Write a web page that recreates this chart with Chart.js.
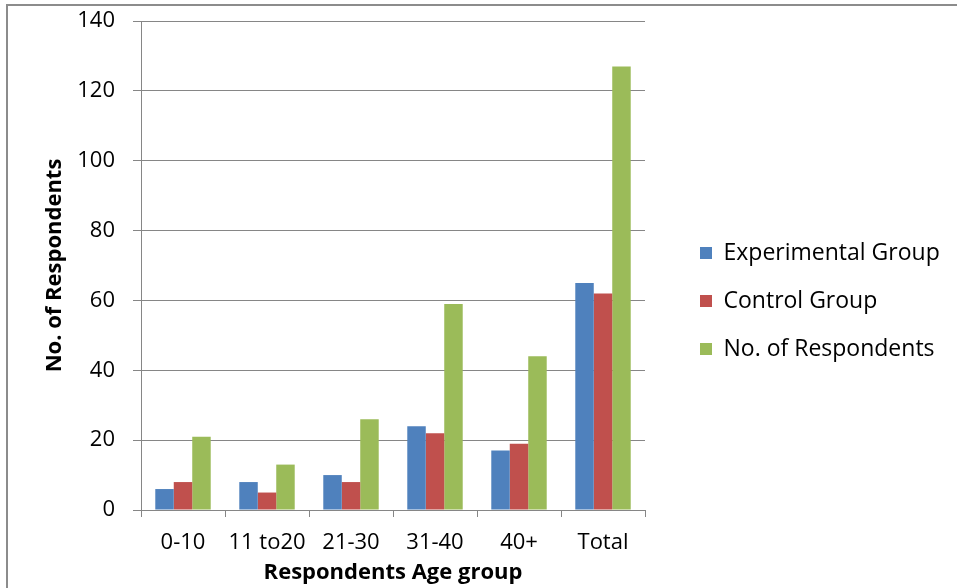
<!DOCTYPE html>
<html>
<head>
<meta charset="utf-8">
<script src="https://cdn.jsdelivr.net/npm/chart.js"></script>
<style>
    html, body { margin: 0; padding: 0; background: #fff; overflow: hidden; }
    #wrap { position: relative; width: 957px; height: 588px; overflow: hidden; }
    #frame {
        position: absolute; left: 6px; top: 4px; width: 2000px; height: 2000px;
        border: 2px solid #8c8c8c; pointer-events: none;
    }
    canvas { position: absolute; left: 0; top: 0; }
</style>
</head>
<body>
<div id="wrap">
    <div id="frame"></div>
    <canvas id="ageChart" width="957" height="588"></canvas>
</div>
<script>
const categories = ['0-10', '11 to20', '21-30', '31-40', '40+', 'Total'];
const experimental = [6, 8, 10, 24, 17, 65];
const control = [8, 5, 8, 22, 19, 62];
const respondents = [21, 13, 26, 59, 44, 127];

const axisGray = '#868686';
const fontFamily = '"Open Sans", Lato, sans-serif';

// legend sits a bit right of (and lower than) where Chart.js puts it
const legendGap = {
    id: 'legendGap',
    afterLayout(chart) {
        const lg = chart.legend;
        lg.left += 30;
        lg.right = chart.width;
        lg.top += 16;
    }
};

document.addEventListener('DOMContentLoaded', function() {
    const ctx = document.getElementById('ageChart').getContext('2d');
    window.ageChart = new Chart(ctx, {
        type: 'bar',
        data: {
            labels: categories,
            datasets: [{
                label: 'Experimental Group',
                data: experimental,
                backgroundColor: '#4F81BD',
                borderWidth: 0
            }, {
                label: 'Control Group',
                data: control,
                backgroundColor: '#C0504D',
                borderWidth: 0
            }, {
                label: 'No. of Respondents',
                data: respondents,
                backgroundColor: '#9BBB59',
                borderWidth: 0
            }]
        },
        options: {
            responsive: false,
            animation: false,
            barPercentage: 1,
            categoryPercentage: 0.66,
            layout: {
                padding: { left: 42, right: 111, top: 0, bottom: 2 }
            },
            plugins: {
                legend: {
                    position: 'right',
                    labels: {
                        boxWidth: 12,
                        boxHeight: 12,
                        padding: 25,
                        color: '#000',
                        font: { family: fontFamily, size: 23 }
                    }
                },
                tooltip: { enabled: false }
            },
            scales: {
                x: {
                    afterFit(scale) {
                        scale.height = 76;
                    },
                    grid: {
                        drawOnChartArea: false,
                        drawTicks: true,
                        tickLength: 7,
                        color: axisGray,
                        offset: true
                    },
                    border: { color: axisGray },
                    ticks: {
                        color: '#000',
                        padding: 13,
                        maxRotation: 0,
                        font: { family: fontFamily, size: 22 }
                    },
                    title: {
                        display: true,
                        text: 'Respondents Age group',
                        color: '#000',
                        padding: { top: 0, bottom: 0 },
                        font: { family: fontFamily, size: 22, weight: 'bold' }
                    }
                },
                y: {
                    min: 0,
                    max: 140,
                    afterFit(scale) {
                        scale.width = 99;
                        scale.paddingTop = 21;
                    },
                    grid: {
                        color: axisGray,
                        tickLength: 8
                    },
                    border: { color: axisGray },
                    ticks: {
                        stepSize: 20,
                        color: '#000',
                        padding: 18,
                        font: { family: fontFamily, size: 22 }
                    },
                    title: {
                        display: true,
                        text: 'No. of Respondents',
                        color: '#000',
                        padding: { top: 0, bottom: 0 },
                        font: { family: fontFamily, size: 22, weight: 'bold' }
                    }
                }
            }
        },
        plugins: [legendGap]
    });
});
</script>
</body>
</html>
